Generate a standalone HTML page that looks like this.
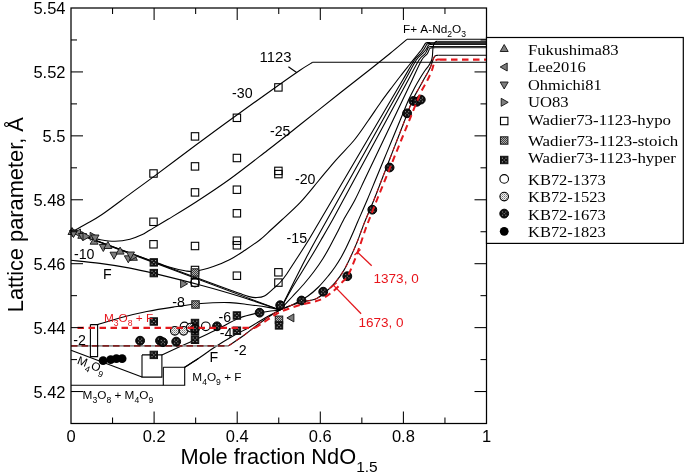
<!DOCTYPE html>
<html><head><meta charset="utf-8"><style>
html,body{margin:0;padding:0;background:#fff;}
svg{display:block;will-change:transform;}
text{font-family:"Liberation Sans",sans-serif;fill:#000;}
.tk{font-size:16.5px;}
.tt{font-size:21.8px;}
.nl{font-size:14.2px;}
.pl{font-size:11.8px;}
.red{fill:#e8141b;}
.rl{font-size:13.5px;fill:#e8141b;}
.lg{font-family:"Liberation Serif",serif;font-size:15px;}
</style></head><body>
<svg width="685" height="474" viewBox="0 0 685 474">
<defs>
<pattern id="pstoich" width="2" height="2" patternUnits="userSpaceOnUse"><rect width="2" height="2" fill="#b0b0b0"/><rect width="1" height="1" fill="#404040"/><rect x="1" y="1" width="1" height="1" fill="#404040"/></pattern>
<pattern id="p1523" width="2" height="2" patternUnits="userSpaceOnUse"><rect width="2" height="2" fill="#f2f2f2"/><rect width="1" height="1" fill="#777"/><rect x="1" y="1" width="1" height="1" fill="#aaa"/></pattern>
</defs>
<rect width="685" height="474" fill="#fff"/>
<path d="M71 231.5 L280 310" fill="none" stroke="#000" stroke-width="1.1"/>
<path d="M71 232.4 C73.5 231 80.83 226.98 86 224 C91.17 221.02 94.58 219.57 102 214.5 C109.42 209.43 122.05 199.78 130.5 193.6 C138.95 187.42 141.85 185.45 152.7 177.4 C163.55 169.35 182.72 154.87 195.6 145.3 C208.48 135.73 216.18 130.02 230 120 C243.82 109.98 266.83 93.5 278.5 85.2 C290.17 76.9 294.3 74.02 300 70.2 C305.7 66.38 310.58 63.62 312.7 62.3" fill="none" stroke="#000" stroke-width="1.1"/>
<path d="M312.7 62.3 L486.5 62.3" fill="none" stroke="#000" stroke-width="1.1"/>
<path d="M71 232 C73.33 232.72 80.17 235.03 85 236.3 C89.83 237.57 95 238.78 100 239.6 C105 240.42 110 241.27 115 241.2 C120 241.13 125.53 240.27 130 239.2 C134.47 238.13 138.47 236.33 141.8 234.8 C145.13 233.27 145.63 232.58 150 230 C154.37 227.42 160.33 223.97 168 219.3 C175.67 214.63 185.67 208.72 196 202 C206.33 195.28 218.12 187.58 230 179 C241.88 170.42 255.63 159.53 267.3 150.5 C278.97 141.47 287.88 134.38 300 124.8 C312.12 115.22 328.33 102.22 340 93 C351.67 83.78 361.67 76.08 370 69.5 C378.33 62.92 383.83 58.53 390 53.5 C396.17 48.47 404.17 41.67 407 39.3" fill="none" stroke="#000" stroke-width="1.1"/>
<path d="M407 39.3 L486.5 39.3" fill="none" stroke="#000" stroke-width="1.1"/>
<path d="M71 231.2 C79.17 234.23 106.83 244.55 120 249.4 C133.17 254.25 141.67 257.32 150 260.3 C158.33 263.28 164.17 265.55 170 267.3 C175.83 269.05 180.83 270.13 185 270.8 C189.17 271.47 190.28 272.02 195 271.3 C199.72 270.58 207.47 268.47 213.3 266.5 C219.13 264.53 224.72 262.22 230 259.5 C235.28 256.78 240 253.5 245 250.2 C250 246.9 255.7 243.07 260 239.7 C264.3 236.33 267.18 233.28 270.8 230 C274.42 226.72 276.78 224.6 281.7 220 C286.62 215.4 294.12 208.98 300.3 202.4 C306.48 195.82 312.9 187.52 318.8 180.5 C324.7 173.48 329.78 167.05 335.7 160.3 C341.62 153.55 348.87 146.63 354.3 140 C359.73 133.37 363.85 126.83 368.3 120.5 C372.75 114.17 376.97 107.67 381 102 C385.03 96.33 389.25 90.83 392.5 86.5 C395.75 82.17 397.78 79.5 400.5 76 C403.22 72.5 405.88 69.17 408.8 65.5 C411.72 61.83 415.87 56.67 418 54 C420.13 51.33 420.57 50.95 421.6 49.5 C422.63 48.05 423.53 46.35 424.2 45.3 C424.87 44.25 425.05 43.65 425.6 43.2 C426.15 42.75 426.77 42.7 427.5 42.6 C428.23 42.5 429.58 42.6 430 42.6" fill="none" stroke="#000" stroke-width="1.1"/>
<path d="M430 42.6 L486.5 42.6" fill="none" stroke="#000" stroke-width="0.9"/>
<path d="M71 231.2 C84.17 236.07 128.5 252.43 150 260.4 C171.5 268.37 186.67 274.07 200 279 C213.33 283.93 223.33 287.57 230 290 C236.67 292.43 236.83 292.5 240 293.6 C243.17 294.7 246.33 295.93 249 296.6 C251.67 297.27 253.43 297.7 256 297.6 C258.57 297.5 261.4 297.58 264.4 296 C267.4 294.42 271.32 290.43 274 288.1 C276.68 285.77 278.35 284.4 280.5 282 C282.65 279.6 284.35 277.37 286.9 273.7 C289.45 270.03 292.18 265.62 295.8 260 C299.42 254.38 304.54 246.67 308.64 240 C312.74 233.33 316.48 226.67 320.4 220 C324.32 213.33 328.24 206.67 332.16 200 C336.08 193.33 340 186.67 343.92 180 C347.84 173.33 351.75 166.67 355.67 160 C359.59 153.33 363.51 146.67 367.43 140 C371.35 133.33 375.27 126.67 379.19 120 C383.11 113.33 387.03 106.67 390.95 100 C394.87 93.33 398.79 86.67 402.71 80 C406.63 73.33 411.55 64.33 414.47 60 C417.38 55.67 418.64 55.75 420.2 54 C421.76 52.25 422.87 50.83 423.8 49.5 C424.73 48.17 425.27 46.9 425.8 46 C426.33 45.1 426.55 44.5 427 44.1 C427.45 43.7 427.83 43.68 428.5 43.6 C429.17 43.52 430.58 43.6 431 43.6" fill="none" stroke="#000" stroke-width="1.1"/>
<path d="M431 43.6 L486.5 43.6" fill="none" stroke="#000" stroke-width="0.9"/>
<path d="M71 260.3 C75.83 260.82 90.17 262.1 100 263.4 C109.83 264.7 121 266.43 130 268.1 C139 269.77 142.33 270.58 154 273.4 C165.67 276.22 185.67 281.15 200 285 C214.33 288.85 226.67 292.33 240 296.5 C253.33 300.67 273.33 307.75 280 310" fill="none" stroke="#000" stroke-width="1.1"/>
<path d="M280 310 C280.73 308.54 282.91 304.17 284.35 301.25 C285.8 298.33 287.24 295.42 288.68 292.5 C290.12 289.58 291.56 286.67 293.01 283.75 C294.46 280.83 295.91 277.92 297.38 275 C298.84 272.08 300.32 269.17 301.81 266.25 C303.3 263.33 304.8 260.42 306.33 257.5 C307.86 254.58 309.4 251.67 310.98 248.75 C312.55 245.83 313.12 244.79 315.78 240 C318.44 235.21 323.22 226.67 326.95 220 C330.67 213.33 334.39 206.67 338.11 200 C341.84 193.33 345.56 186.67 349.28 180 C353 173.33 356.73 166.67 360.45 160 C364.17 153.33 367.89 146.67 371.62 140 C375.34 133.33 379.06 126.67 382.78 120 C386.51 113.33 390.23 106.67 393.95 100 C397.67 93.33 401.4 86.67 405.12 80 C408.84 73.33 413.47 64.33 416.29 60 C419.1 55.67 420.38 55.75 422 54 C423.62 52.25 425.03 50.8 426 49.5 C426.97 48.2 427.33 46.97 427.8 46.2 C428.27 45.43 428.43 45.18 428.8 44.9 C429.17 44.62 429.47 44.57 430 44.5 C430.53 44.43 431.67 44.5 432 44.5" fill="none" stroke="#000" stroke-width="1.1"/>
<path d="M432 44.5 L486.5 44.5" fill="none" stroke="#000" stroke-width="0.9"/>
<path d="M97.6 324.6 C101.42 323.45 112.3 319.88 120.5 317.7 C128.7 315.52 138.03 313.27 146.8 311.5 C155.57 309.73 164.07 308.43 173.1 307.1 C182.13 305.77 191.52 304.25 201 303.5 C210.48 302.75 221.97 302.4 230 302.6 C238.03 302.8 242.83 303.9 249.2 304.7 C255.57 305.5 263.07 306.52 268.2 307.4 C273.33 308.28 278.03 309.57 280 310" fill="none" stroke="#000" stroke-width="1.1"/>
<path d="M280 310 C281.83 306.67 287.25 296.5 291 290 C294.75 283.5 298.92 276.92 302.5 271 C306.08 265.08 309.42 259.67 312.5 254.5 C315.58 249.33 317.67 245.75 321 240 C324.33 234.25 328.76 226.67 332.48 220 C336.2 213.33 339.69 206.67 343.3 200 C346.9 193.33 350.51 186.67 354.11 180 C357.72 173.33 361.32 166.67 364.93 160 C368.54 153.33 372.14 146.67 375.75 140 C379.35 133.33 382.96 126.67 386.56 120 C390.17 113.33 393.78 106.67 397.38 100 C400.99 93.33 404.59 86.67 408.2 80 C411.8 73.33 416.23 64.33 419.02 60 C421.8 55.67 423.54 55.67 424.9 54 C426.26 52.33 426.63 51.08 427.2 50 C427.77 48.92 427.95 48.05 428.3 47.5 C428.65 46.95 428.85 46.87 429.3 46.7 C429.75 46.53 430.38 46.53 431 46.5 C431.62 46.47 432.67 46.5 433 46.5" fill="none" stroke="#000" stroke-width="1.1"/>
<path d="M433 46.5 L486.5 46.5" fill="none" stroke="#000" stroke-width="0.9"/>
<path d="M161.9 354.9 C167.12 352.53 184.18 344.85 193.2 340.7 C202.22 336.55 208.37 333.75 216 330 C223.63 326.25 231.77 321.08 239 318.2 C246.23 315.32 252.57 314.07 259.4 312.7 C266.23 311.33 276.57 310.45 280 310" fill="none" stroke="#000" stroke-width="1.1"/>
<path d="M280 310 C282 307.83 288.08 301.25 292 297 C295.92 292.75 299.83 288.75 303.5 284.5 C307.17 280.25 310.75 275.83 314 271.5 C317.25 267.17 320.13 263.08 323 258.5 C325.87 253.92 328.78 248.42 331.2 244 C333.62 239.58 335.45 236 337.5 232 C339.55 228 340.6 225.33 343.5 220 C346.4 214.67 351.42 206.67 354.91 200 C358.4 193.33 361.27 186.67 364.45 180 C367.63 173.33 370.81 166.67 373.99 160 C377.17 153.33 380.35 146.67 383.53 140 C386.71 133.33 389.89 126.67 393.07 120 C396.25 113.33 399.43 106.67 402.61 100 C405.79 93.33 408.97 86.67 412.15 80 C415.33 73.33 419.2 64.33 421.69 60 C424.18 55.67 425.91 55.58 427.1 54 C428.29 52.42 428.35 51.42 428.8 50.5 C429.25 49.58 429.43 48.93 429.8 48.5 C430.17 48.07 430.47 48.03 431 47.9 C431.53 47.77 432.33 47.73 433 47.7 C433.67 47.67 434.67 47.7 435 47.7" fill="none" stroke="#000" stroke-width="1.1"/>
<path d="M435 47.7 L486.5 47.7" fill="none" stroke="#000" stroke-width="0.9"/>
<path d="M184.7 367.3 C186.92 365.87 192.95 362.08 198 358.7 C203.05 355.32 209.17 350.78 215 347 C220.83 343.22 227.17 339.33 233 336 C238.83 332.67 244.67 330 250 327 C255.33 324 260 320.83 265 318 C270 315.17 277.5 311.33 280 310" fill="none" stroke="#000" stroke-width="1.1"/>
<path d="M280 310 C282.5 308.92 290.33 305.83 295 303.5 C299.67 301.17 304.08 298.75 308 296 C311.92 293.25 315.08 290.4 318.5 287 C321.92 283.6 325.75 278.93 328.5 275.6 C331.25 272.27 332.92 270.02 335 267 C337.08 263.98 339.17 260.67 341 257.5 C342.83 254.33 344.5 251 346 248 C347.5 245 348.67 242.42 350 239.5 C351.33 236.58 352.7 233.5 354 230.5 C355.3 227.5 355.6 226.58 357.8 221.5 C360 216.42 364.23 206.92 367.17 200 C370.11 193.08 372.69 186.67 375.44 180 C378.2 173.33 380.96 166.67 383.72 160 C386.47 153.33 389.23 146.67 391.99 140 C394.75 133.33 397.5 126.67 400.26 120 C403.02 113.33 406.16 105.33 408.53 100 C410.91 94.67 412.76 91.33 414.5 88 C416.24 84.67 417.42 82.67 419 80 C420.58 77.33 422.42 74.33 424 72 C425.58 69.67 427.28 67.83 428.5 66 C429.72 64.17 430.65 62.67 431.3 61 C431.95 59.33 432.15 57.83 432.4 56 C432.65 54.17 432.65 51.67 432.8 50 C432.95 48.33 433.02 47.17 433.3 46 C433.58 44.83 434.05 43.73 434.5 43 C434.95 42.27 435.5 41.87 436 41.6 C436.5 41.33 437.25 41.43 437.5 41.4" fill="none" stroke="#000" stroke-width="1.1"/>
<path d="M437.5 41.4 L486.5 41.4" fill="none" stroke="#000" stroke-width="0.9"/>
<path d="M71 345.8 L228.6 345.8" fill="none" stroke="#909090" stroke-width="1.7"/>
<path d="M71 345.8 L228.6 345.8" fill="none" stroke="#7d2020" stroke-width="1.7" stroke-dasharray="6.5 4"/>
<path d="M228.6 345.8 C231.33 343.92 239.43 338.55 245 334.5 C250.57 330.45 256.17 325.58 262 321.5 C267.83 317.42 273.67 313.17 280 310 C286.33 306.83 294.17 304.3 300 302.5 C305.83 300.7 310.82 300.87 315 299.2 C319.18 297.53 321.72 295.3 325.1 292.5 C328.48 289.7 332.2 286.05 335.3 282.4 C338.4 278.75 341.03 275.1 343.7 270.6 C346.37 266.1 349.05 260.18 351.3 255.4 C353.55 250.62 355.42 246.3 357.2 241.9 C358.98 237.5 360.62 232.65 362 229 C363.38 225.35 363.52 224.83 365.5 220 C367.48 215.17 371.19 206.67 373.88 200 C376.57 193.33 379.04 186.67 381.63 180 C384.21 173.33 386.79 166.67 389.37 160 C391.95 153.33 394.53 146.67 397.12 140 C399.7 133.33 402.28 126.67 404.86 120 C407.44 113.33 410.33 105.17 412.61 100 C414.88 94.83 416.68 92.33 418.5 89 C420.32 85.67 422 82.67 423.5 80 C425 77.33 426.33 75.17 427.5 73 C428.67 70.83 429.72 68.83 430.5 67 C431.28 65.17 431.7 63.42 432.2 62 C432.7 60.58 433.03 59.5 433.5 58.5 C433.97 57.5 434.45 56.52 435 56 C435.55 55.48 436.22 55.52 436.8 55.4 C437.38 55.28 438.22 55.32 438.5 55.3" fill="none" stroke="#000" stroke-width="1.1"/>
<path d="M228.6 345.8 C231.33 343.92 239.43 338.55 245 334.5 C250.57 330.45 256.17 325.58 262 321.5 C267.83 317.42 273.67 313.17 280 310 C286.33 306.83 294.17 304.3 300 302.5 C305.83 300.7 310.82 300.87 315 299.2 C319.18 297.53 321.72 295.3 325.1 292.5 C328.48 289.7 332.2 286.05 335.3 282.4 C338.4 278.75 341.03 275.1 343.7 270.6 C346.37 266.1 349.05 260.18 351.3 255.4 C353.55 250.62 355.42 246.3 357.2 241.9 C358.98 237.5 360.62 232.65 362 229 C363.38 225.35 363.52 224.83 365.5 220 C367.48 215.17 371.19 206.67 373.88 200 C376.57 193.33 379.04 186.67 381.63 180 C384.21 173.33 386.79 166.67 389.37 160 C391.95 153.33 394.53 146.67 397.12 140 C399.7 133.33 402.28 126.67 404.86 120 C407.44 113.33 410.33 105.17 412.61 100 C414.88 94.83 416.68 92.33 418.5 89 C420.32 85.67 422 82.67 423.5 80 C425 77.33 426.33 75.17 427.5 73 C428.67 70.83 429.72 68.83 430.5 67 C431.28 65.17 431.7 63.42 432.2 62 C432.7 60.58 433.03 59.5 433.5 58.5 C433.97 57.5 434.45 56.52 435 56 C435.55 55.48 436.22 55.52 436.8 55.4 C437.38 55.28 438.22 55.32 438.5 55.3" fill="none" stroke="#b3161b" stroke-width="1.05" stroke-dasharray="5 4"/>
<path d="M438.5 55.3 L486.5 55.3" fill="none" stroke="#000" stroke-width="1.1"/>
<path d="M71 350.2 L142 377.1" fill="none" stroke="#000" stroke-width="1.1"/>
<path d="M90.4 324.6 L97.6 324.6 L97.6 356.6 L90.4 356.6 L90.4 324.6" fill="none" stroke="#000" stroke-width="1.1"/>
<path d="M142 354.9 L161.9 354.9 L161.9 377.1 L142 377.1 L142 354.9" fill="none" stroke="#000" stroke-width="1.1"/>
<path d="M163.3 367.3 L184.7 367.3 L184.7 385.3 L163.3 385.3 L163.3 367.3" fill="none" stroke="#000" stroke-width="1.1"/>
<path d="M71 385.3 L163.3 385.3" fill="none" stroke="#000" stroke-width="1.1"/>
<path d="M184.7 367.3 C186.92 365.87 195.78 360.13 198 358.7" fill="none" stroke="#000" stroke-width="1.1"/>
<path d="M288.4 66.8 L297 72.7" fill="none" stroke="#000" stroke-width="1.1"/>
<rect x="149.8" y="169.8" width="7.4" height="7.4" fill="none" stroke="#000" stroke-width="1.1"/>
<rect x="149.8" y="218.1" width="7.4" height="7.4" fill="none" stroke="#000" stroke-width="1.1"/>
<rect x="149.8" y="240.6" width="7.4" height="7.4" fill="none" stroke="#000" stroke-width="1.1"/>
<rect x="191.3" y="132.7" width="7.4" height="7.4" fill="none" stroke="#000" stroke-width="1.1"/>
<rect x="191.3" y="162.7" width="7.4" height="7.4" fill="none" stroke="#000" stroke-width="1.1"/>
<rect x="191.3" y="188.7" width="7.4" height="7.4" fill="none" stroke="#000" stroke-width="1.1"/>
<rect x="191.3" y="242.3" width="7.4" height="7.4" fill="none" stroke="#000" stroke-width="1.1"/>
<rect x="233.2" y="114.1" width="7.4" height="7.4" fill="none" stroke="#000" stroke-width="1.1"/>
<rect x="233.2" y="154.3" width="7.4" height="7.4" fill="none" stroke="#000" stroke-width="1.1"/>
<rect x="233.2" y="186" width="7.4" height="7.4" fill="none" stroke="#000" stroke-width="1.1"/>
<rect x="233.2" y="209.6" width="7.4" height="7.4" fill="none" stroke="#000" stroke-width="1.1"/>
<rect x="233.2" y="237" width="7.4" height="7.4" fill="none" stroke="#000" stroke-width="1.1"/>
<rect x="233.2" y="241.6" width="7.4" height="7.4" fill="none" stroke="#000" stroke-width="1.1"/>
<rect x="233.2" y="272" width="7.4" height="7.4" fill="none" stroke="#000" stroke-width="1.1"/>
<rect x="274.7" y="83.7" width="7.4" height="7.4" fill="none" stroke="#000" stroke-width="1.1"/>
<rect x="274.7" y="167.2" width="7.4" height="7.4" fill="none" stroke="#000" stroke-width="1.1"/>
<rect x="274.7" y="170.4" width="7.4" height="7.4" fill="none" stroke="#000" stroke-width="1.1"/>
<rect x="274.7" y="268.6" width="7.4" height="7.4" fill="none" stroke="#000" stroke-width="1.1"/>
<rect x="274.7" y="278.9" width="7.4" height="7.4" fill="none" stroke="#000" stroke-width="1.1"/>
<rect x="191.3" y="266.3" width="7.4" height="7.4" fill="none" stroke="#000" stroke-width="1.1"/>
<rect x="191.3" y="271.3" width="7.4" height="7.4" fill="none" stroke="#000" stroke-width="1.1"/>
<rect x="191.3" y="278.9" width="7.4" height="7.4" fill="none" stroke="#000" stroke-width="1.1"/>
<polygon points="72,227.5 76,234.5 68,234.5" fill="#7d7d7d" stroke="#111" stroke-width="0.9"/>
<polygon points="79,232.5 72,228.5 72,236.5" fill="#7d7d7d" stroke="#111" stroke-width="0.9"/>
<polygon points="73.5,233 80.5,229 80.5,237" fill="#7d7d7d" stroke="#111" stroke-width="0.9"/>
<polygon points="73.5,237.5 77.5,230.5 69.5,230.5" fill="#7d7d7d" stroke="#111" stroke-width="0.9"/>
<polygon points="81.8,231.3 85.8,238.3 77.8,238.3" fill="#7d7d7d" stroke="#111" stroke-width="0.9"/>
<polygon points="82.5,240.5 86.5,233.5 78.5,233.5" fill="#7d7d7d" stroke="#111" stroke-width="0.9"/>
<polygon points="90,236.5 83,232.5 83,240.5" fill="#7d7d7d" stroke="#111" stroke-width="0.9"/>
<polygon points="97.1,236.3 90.1,232.3 90.1,240.3" fill="#7d7d7d" stroke="#111" stroke-width="0.9"/>
<polygon points="94.1,237.2 98.1,244.2 90.1,244.2" fill="#7d7d7d" stroke="#111" stroke-width="0.9"/>
<polygon points="95,242 99,235 91,235" fill="#7d7d7d" stroke="#111" stroke-width="0.9"/>
<polygon points="103.3,251.5 107.3,244.5 99.3,244.5" fill="#7d7d7d" stroke="#111" stroke-width="0.9"/>
<polygon points="107.9,241.5 111.9,248.5 103.9,248.5" fill="#7d7d7d" stroke="#111" stroke-width="0.9"/>
<polygon points="114,259.2 118,252.2 110,252.2" fill="#7d7d7d" stroke="#111" stroke-width="0.9"/>
<polygon points="120.1,247.1 124.1,254.1 116.1,254.1" fill="#7d7d7d" stroke="#111" stroke-width="0.9"/>
<polygon points="128.3,262.8 132.3,255.8 124.3,255.8" fill="#7d7d7d" stroke="#111" stroke-width="0.9"/>
<polygon points="133.4,253.3 137.4,260.3 129.4,260.3" fill="#7d7d7d" stroke="#111" stroke-width="0.9"/>
<polygon points="137.4,256.5 130.4,252.5 130.4,260.5" fill="#7d7d7d" stroke="#111" stroke-width="0.9"/>
<polygon points="130.5,259 134.5,252 126.5,252" fill="#7d7d7d" stroke="#111" stroke-width="0.9"/>
<polygon points="187.6,283.8 180.6,279.8 180.6,287.8" fill="#7d7d7d" stroke="#111" stroke-width="0.9"/>
<polygon points="286.9,317.9 293.9,313.9 293.9,321.9" fill="#7d7d7d" stroke="#111" stroke-width="0.9"/>
<rect x="191.3" y="268.8" width="7.4" height="7.4" fill="url(#pstoich)" stroke="#222" stroke-width="1.1"/>
<rect x="191.8" y="300.8" width="7.4" height="7.4" fill="url(#pstoich)" stroke="#222" stroke-width="1.1"/>
<rect x="275.3" y="316.1" width="7.4" height="7.4" fill="url(#pstoich)" stroke="#222" stroke-width="1.1"/>
<rect x="150.1" y="258.7" width="7.4" height="7.4" fill="#111" stroke="#111" stroke-width="1"/>
<rect x="151.5" y="260.1" width="1" height="1" fill="#bbb"/>
<rect x="155.1" y="260.1" width="1" height="1" fill="#bbb"/>
<rect x="153.3" y="261.9" width="1" height="1" fill="#bbb"/>
<rect x="151.5" y="263.7" width="1" height="1" fill="#bbb"/>
<rect x="155.1" y="263.7" width="1" height="1" fill="#bbb"/>
<rect x="150.1" y="269.4" width="7.4" height="7.4" fill="#111" stroke="#111" stroke-width="1"/>
<rect x="151.5" y="270.8" width="1" height="1" fill="#bbb"/>
<rect x="155.1" y="270.8" width="1" height="1" fill="#bbb"/>
<rect x="153.3" y="272.6" width="1" height="1" fill="#bbb"/>
<rect x="151.5" y="274.4" width="1" height="1" fill="#bbb"/>
<rect x="155.1" y="274.4" width="1" height="1" fill="#bbb"/>
<rect x="150.1" y="317.8" width="7.4" height="7.4" fill="#111" stroke="#111" stroke-width="1"/>
<rect x="151.5" y="319.2" width="1" height="1" fill="#bbb"/>
<rect x="155.1" y="319.2" width="1" height="1" fill="#bbb"/>
<rect x="153.3" y="321" width="1" height="1" fill="#bbb"/>
<rect x="151.5" y="322.8" width="1" height="1" fill="#bbb"/>
<rect x="155.1" y="322.8" width="1" height="1" fill="#bbb"/>
<rect x="150.1" y="351.2" width="7.4" height="7.4" fill="#111" stroke="#111" stroke-width="1"/>
<rect x="151.5" y="352.6" width="1" height="1" fill="#bbb"/>
<rect x="155.1" y="352.6" width="1" height="1" fill="#bbb"/>
<rect x="153.3" y="354.4" width="1" height="1" fill="#bbb"/>
<rect x="151.5" y="356.2" width="1" height="1" fill="#bbb"/>
<rect x="155.1" y="356.2" width="1" height="1" fill="#bbb"/>
<rect x="191.3" y="319.3" width="7.4" height="7.4" fill="#111" stroke="#111" stroke-width="1"/>
<rect x="192.7" y="320.7" width="1" height="1" fill="#bbb"/>
<rect x="196.3" y="320.7" width="1" height="1" fill="#bbb"/>
<rect x="194.5" y="322.5" width="1" height="1" fill="#bbb"/>
<rect x="192.7" y="324.3" width="1" height="1" fill="#bbb"/>
<rect x="196.3" y="324.3" width="1" height="1" fill="#bbb"/>
<rect x="191.3" y="327.7" width="7.4" height="7.4" fill="#111" stroke="#111" stroke-width="1"/>
<rect x="192.7" y="329.1" width="1" height="1" fill="#bbb"/>
<rect x="196.3" y="329.1" width="1" height="1" fill="#bbb"/>
<rect x="194.5" y="330.9" width="1" height="1" fill="#bbb"/>
<rect x="192.7" y="332.7" width="1" height="1" fill="#bbb"/>
<rect x="196.3" y="332.7" width="1" height="1" fill="#bbb"/>
<rect x="191.3" y="336.1" width="7.4" height="7.4" fill="#111" stroke="#111" stroke-width="1"/>
<rect x="192.7" y="337.5" width="1" height="1" fill="#bbb"/>
<rect x="196.3" y="337.5" width="1" height="1" fill="#bbb"/>
<rect x="194.5" y="339.3" width="1" height="1" fill="#bbb"/>
<rect x="192.7" y="341.1" width="1" height="1" fill="#bbb"/>
<rect x="196.3" y="341.1" width="1" height="1" fill="#bbb"/>
<rect x="233.2" y="311.8" width="7.4" height="7.4" fill="#111" stroke="#111" stroke-width="1"/>
<rect x="234.6" y="313.2" width="1" height="1" fill="#bbb"/>
<rect x="238.2" y="313.2" width="1" height="1" fill="#bbb"/>
<rect x="236.4" y="315" width="1" height="1" fill="#bbb"/>
<rect x="234.6" y="316.8" width="1" height="1" fill="#bbb"/>
<rect x="238.2" y="316.8" width="1" height="1" fill="#bbb"/>
<rect x="233.2" y="327" width="7.4" height="7.4" fill="#111" stroke="#111" stroke-width="1"/>
<rect x="234.6" y="328.4" width="1" height="1" fill="#bbb"/>
<rect x="238.2" y="328.4" width="1" height="1" fill="#bbb"/>
<rect x="236.4" y="330.2" width="1" height="1" fill="#bbb"/>
<rect x="234.6" y="332" width="1" height="1" fill="#bbb"/>
<rect x="238.2" y="332" width="1" height="1" fill="#bbb"/>
<rect x="275.3" y="321.7" width="7.4" height="7.4" fill="#111" stroke="#111" stroke-width="1"/>
<rect x="276.7" y="323.1" width="1" height="1" fill="#bbb"/>
<rect x="280.3" y="323.1" width="1" height="1" fill="#bbb"/>
<rect x="278.5" y="324.9" width="1" height="1" fill="#bbb"/>
<rect x="276.7" y="326.7" width="1" height="1" fill="#bbb"/>
<rect x="280.3" y="326.7" width="1" height="1" fill="#bbb"/>
<circle cx="195" cy="282.6" r="4.3" fill="none" stroke="#000" stroke-width="1.1"/>
<circle cx="184.5" cy="326.4" r="4.3" fill="none" stroke="#000" stroke-width="1.1"/>
<circle cx="205.8" cy="326.3" r="4.3" fill="none" stroke="#000" stroke-width="1.1"/>
<circle cx="174.8" cy="330.8" r="4.3" fill="url(#p1523)" stroke="#000" stroke-width="1.1"/>
<circle cx="183.6" cy="330.8" r="4.3" fill="url(#p1523)" stroke="#000" stroke-width="1.1"/>
<circle cx="190.6" cy="327.6" r="4.3" fill="url(#p1523)" stroke="#000" stroke-width="1.1"/>
<circle cx="140.1" cy="340.7" r="4.4" fill="#111" stroke="#000" stroke-width="1"/>
<rect x="138" y="338.6" width="1" height="1" fill="#999"/>
<rect x="141.2" y="338.6" width="1" height="1" fill="#999"/>
<rect x="139.6" y="340.2" width="1" height="1" fill="#999"/>
<rect x="138" y="341.8" width="1" height="1" fill="#999"/>
<rect x="141.2" y="341.8" width="1" height="1" fill="#999"/>
<circle cx="160" cy="340.7" r="4.4" fill="#111" stroke="#000" stroke-width="1"/>
<rect x="157.9" y="338.6" width="1" height="1" fill="#999"/>
<rect x="161.1" y="338.6" width="1" height="1" fill="#999"/>
<rect x="159.5" y="340.2" width="1" height="1" fill="#999"/>
<rect x="157.9" y="341.8" width="1" height="1" fill="#999"/>
<rect x="161.1" y="341.8" width="1" height="1" fill="#999"/>
<circle cx="162.9" cy="342.2" r="4.4" fill="#111" stroke="#000" stroke-width="1"/>
<rect x="160.8" y="340.1" width="1" height="1" fill="#999"/>
<rect x="164" y="340.1" width="1" height="1" fill="#999"/>
<rect x="162.4" y="341.7" width="1" height="1" fill="#999"/>
<rect x="160.8" y="343.3" width="1" height="1" fill="#999"/>
<rect x="164" y="343.3" width="1" height="1" fill="#999"/>
<circle cx="176.2" cy="341.6" r="4.4" fill="#111" stroke="#000" stroke-width="1"/>
<rect x="174.1" y="339.5" width="1" height="1" fill="#999"/>
<rect x="177.3" y="339.5" width="1" height="1" fill="#999"/>
<rect x="175.7" y="341.1" width="1" height="1" fill="#999"/>
<rect x="174.1" y="342.7" width="1" height="1" fill="#999"/>
<rect x="177.3" y="342.7" width="1" height="1" fill="#999"/>
<circle cx="195" cy="328.5" r="4.4" fill="#111" stroke="#000" stroke-width="1"/>
<rect x="192.9" y="326.4" width="1" height="1" fill="#999"/>
<rect x="196.1" y="326.4" width="1" height="1" fill="#999"/>
<rect x="194.5" y="328" width="1" height="1" fill="#999"/>
<rect x="192.9" y="329.6" width="1" height="1" fill="#999"/>
<rect x="196.1" y="329.6" width="1" height="1" fill="#999"/>
<circle cx="217" cy="326.3" r="4.4" fill="#111" stroke="#000" stroke-width="1"/>
<rect x="214.9" y="324.2" width="1" height="1" fill="#999"/>
<rect x="218.1" y="324.2" width="1" height="1" fill="#999"/>
<rect x="216.5" y="325.8" width="1" height="1" fill="#999"/>
<rect x="214.9" y="327.4" width="1" height="1" fill="#999"/>
<rect x="218.1" y="327.4" width="1" height="1" fill="#999"/>
<circle cx="259.6" cy="312.7" r="4.4" fill="#111" stroke="#000" stroke-width="1"/>
<rect x="257.5" y="310.6" width="1" height="1" fill="#999"/>
<rect x="260.7" y="310.6" width="1" height="1" fill="#999"/>
<rect x="259.1" y="312.2" width="1" height="1" fill="#999"/>
<rect x="257.5" y="313.8" width="1" height="1" fill="#999"/>
<rect x="260.7" y="313.8" width="1" height="1" fill="#999"/>
<circle cx="280.2" cy="305.2" r="4.4" fill="#111" stroke="#000" stroke-width="1"/>
<rect x="278.1" y="303.1" width="1" height="1" fill="#999"/>
<rect x="281.3" y="303.1" width="1" height="1" fill="#999"/>
<rect x="279.7" y="304.7" width="1" height="1" fill="#999"/>
<rect x="278.1" y="306.3" width="1" height="1" fill="#999"/>
<rect x="281.3" y="306.3" width="1" height="1" fill="#999"/>
<circle cx="301.5" cy="300.5" r="4.4" fill="#111" stroke="#000" stroke-width="1"/>
<rect x="299.4" y="298.4" width="1" height="1" fill="#999"/>
<rect x="302.6" y="298.4" width="1" height="1" fill="#999"/>
<rect x="301" y="300" width="1" height="1" fill="#999"/>
<rect x="299.4" y="301.6" width="1" height="1" fill="#999"/>
<rect x="302.6" y="301.6" width="1" height="1" fill="#999"/>
<circle cx="323.2" cy="291.7" r="4.4" fill="#111" stroke="#000" stroke-width="1"/>
<rect x="321.1" y="289.6" width="1" height="1" fill="#999"/>
<rect x="324.3" y="289.6" width="1" height="1" fill="#999"/>
<rect x="322.7" y="291.2" width="1" height="1" fill="#999"/>
<rect x="321.1" y="292.8" width="1" height="1" fill="#999"/>
<rect x="324.3" y="292.8" width="1" height="1" fill="#999"/>
<circle cx="347.3" cy="276.2" r="4.4" fill="#111" stroke="#000" stroke-width="1"/>
<rect x="345.2" y="274.1" width="1" height="1" fill="#999"/>
<rect x="348.4" y="274.1" width="1" height="1" fill="#999"/>
<rect x="346.8" y="275.7" width="1" height="1" fill="#999"/>
<rect x="345.2" y="277.3" width="1" height="1" fill="#999"/>
<rect x="348.4" y="277.3" width="1" height="1" fill="#999"/>
<circle cx="372.3" cy="209.7" r="4.4" fill="#111" stroke="#000" stroke-width="1"/>
<rect x="370.2" y="207.6" width="1" height="1" fill="#999"/>
<rect x="373.4" y="207.6" width="1" height="1" fill="#999"/>
<rect x="371.8" y="209.2" width="1" height="1" fill="#999"/>
<rect x="370.2" y="210.8" width="1" height="1" fill="#999"/>
<rect x="373.4" y="210.8" width="1" height="1" fill="#999"/>
<circle cx="389.6" cy="167.5" r="4.4" fill="#111" stroke="#000" stroke-width="1"/>
<rect x="387.5" y="165.4" width="1" height="1" fill="#999"/>
<rect x="390.7" y="165.4" width="1" height="1" fill="#999"/>
<rect x="389.1" y="167" width="1" height="1" fill="#999"/>
<rect x="387.5" y="168.6" width="1" height="1" fill="#999"/>
<rect x="390.7" y="168.6" width="1" height="1" fill="#999"/>
<circle cx="407.1" cy="113.3" r="4.4" fill="#111" stroke="#000" stroke-width="1"/>
<rect x="405" y="111.2" width="1" height="1" fill="#999"/>
<rect x="408.2" y="111.2" width="1" height="1" fill="#999"/>
<rect x="406.6" y="112.8" width="1" height="1" fill="#999"/>
<rect x="405" y="114.4" width="1" height="1" fill="#999"/>
<rect x="408.2" y="114.4" width="1" height="1" fill="#999"/>
<circle cx="413.4" cy="101" r="4.4" fill="#111" stroke="#000" stroke-width="1"/>
<rect x="411.3" y="98.9" width="1" height="1" fill="#999"/>
<rect x="414.5" y="98.9" width="1" height="1" fill="#999"/>
<rect x="412.9" y="100.5" width="1" height="1" fill="#999"/>
<rect x="411.3" y="102.1" width="1" height="1" fill="#999"/>
<rect x="414.5" y="102.1" width="1" height="1" fill="#999"/>
<circle cx="416.8" cy="101.8" r="4.4" fill="#111" stroke="#000" stroke-width="1"/>
<rect x="414.7" y="99.7" width="1" height="1" fill="#999"/>
<rect x="417.9" y="99.7" width="1" height="1" fill="#999"/>
<rect x="416.3" y="101.3" width="1" height="1" fill="#999"/>
<rect x="414.7" y="102.9" width="1" height="1" fill="#999"/>
<rect x="417.9" y="102.9" width="1" height="1" fill="#999"/>
<circle cx="420.8" cy="99.6" r="4.4" fill="#111" stroke="#000" stroke-width="1"/>
<rect x="418.7" y="97.5" width="1" height="1" fill="#999"/>
<rect x="421.9" y="97.5" width="1" height="1" fill="#999"/>
<rect x="420.3" y="99.1" width="1" height="1" fill="#999"/>
<rect x="418.7" y="100.7" width="1" height="1" fill="#999"/>
<rect x="421.9" y="100.7" width="1" height="1" fill="#999"/>
<circle cx="103.1" cy="360.6" r="4.4" fill="#000"/>
<circle cx="110.7" cy="359.7" r="4.4" fill="#000"/>
<circle cx="116.4" cy="358.7" r="4.4" fill="#000"/>
<circle cx="122.1" cy="358.7" r="4.4" fill="#000"/>
<path d="M77.5 327.8 L255 327.8" fill="none" stroke="#e3191e" stroke-width="2.2" stroke-dasharray="6.5 4.5"/>
<path d="M255 327.8 C257.17 326.42 263.75 322.17 268 319.5 C272.25 316.83 275.17 314.22 280.5 311.8 C285.83 309.38 293.42 307 300 305 C306.58 303 314.4 302.17 320 299.8 C325.6 297.43 329.93 293.7 333.6 290.8 C337.27 287.9 339.62 284.93 342 282.4 C344.38 279.87 345.93 278.98 347.9 275.6 C349.87 272.22 351.97 266.6 353.8 262.1 C355.63 257.6 357 253.95 358.9 248.6 C360.8 243.25 363.52 234.77 365.2 230 C366.88 225.23 367.05 225 369 220 C370.95 215 374.22 206.67 376.89 200 C379.56 193.33 382.31 186.67 385.02 180 C387.73 173.33 390.44 166.67 393.15 160 C395.86 153.33 398.57 146.67 401.29 140 C404 133.33 406.71 126.67 409.42 120 C412.13 113.33 415.54 104.83 417.55 100 C419.56 95.17 420.09 93.83 421.5 91 C422.91 88.17 424.67 85.5 426 83 C427.33 80.5 428.5 78.17 429.5 76 C430.5 73.83 431.33 71.83 432 70 C432.67 68.17 433.03 66.42 433.5 65 C433.97 63.58 434.3 62.37 434.8 61.5 C435.3 60.63 435.88 60.12 436.5 59.8 C437.12 59.48 437.92 59.63 438.5 59.6 C439.08 59.57 439.75 59.6 440 59.6" fill="none" stroke="#e3191e" stroke-width="2.0" stroke-dasharray="6.5 4.5"/>
<path d="M440 59.6 L486.5 59.6" fill="none" stroke="#e3191e" stroke-width="2.2" stroke-dasharray="6.5 4.5"/>
<path d="M357.5 252.2 L371.7 265.7" fill="none" stroke="#e3191e" stroke-width="1.3"/>
<path d="M354.5 255 L360.5 249.5" fill="none" stroke="#e3191e" stroke-width="1.3"/>
<path d="M333.6 285.4 L361.1 313.8" fill="none" stroke="#e3191e" stroke-width="1.3"/>
<path d="M330.5 288 L336.7 282.8" fill="none" stroke="#e3191e" stroke-width="1.3"/>
<rect x="71" y="8" width="415.5" height="415.5" fill="none" stroke="#000" stroke-width="1.25"/>
<line x1="112.55" y1="423.5" x2="112.55" y2="417.5" stroke="#000" stroke-width="1.05"/>
<line x1="112.55" y1="8" x2="112.55" y2="14" stroke="#000" stroke-width="1.05"/>
<line x1="154.1" y1="423.5" x2="154.1" y2="411.5" stroke="#000" stroke-width="1.05"/>
<line x1="154.1" y1="8" x2="154.1" y2="20" stroke="#000" stroke-width="1.05"/>
<line x1="195.65" y1="423.5" x2="195.65" y2="417.5" stroke="#000" stroke-width="1.05"/>
<line x1="195.65" y1="8" x2="195.65" y2="14" stroke="#000" stroke-width="1.05"/>
<line x1="237.2" y1="423.5" x2="237.2" y2="411.5" stroke="#000" stroke-width="1.05"/>
<line x1="237.2" y1="8" x2="237.2" y2="20" stroke="#000" stroke-width="1.05"/>
<line x1="278.75" y1="423.5" x2="278.75" y2="417.5" stroke="#000" stroke-width="1.05"/>
<line x1="278.75" y1="8" x2="278.75" y2="14" stroke="#000" stroke-width="1.05"/>
<line x1="320.3" y1="423.5" x2="320.3" y2="411.5" stroke="#000" stroke-width="1.05"/>
<line x1="320.3" y1="8" x2="320.3" y2="20" stroke="#000" stroke-width="1.05"/>
<line x1="361.85" y1="423.5" x2="361.85" y2="417.5" stroke="#000" stroke-width="1.05"/>
<line x1="361.85" y1="8" x2="361.85" y2="14" stroke="#000" stroke-width="1.05"/>
<line x1="403.4" y1="423.5" x2="403.4" y2="411.5" stroke="#000" stroke-width="1.05"/>
<line x1="403.4" y1="8" x2="403.4" y2="20" stroke="#000" stroke-width="1.05"/>
<line x1="444.95" y1="423.5" x2="444.95" y2="417.5" stroke="#000" stroke-width="1.05"/>
<line x1="444.95" y1="8" x2="444.95" y2="14" stroke="#000" stroke-width="1.05"/>
<line x1="71" y1="391.54" x2="83" y2="391.54" stroke="#000" stroke-width="1.05"/>
<line x1="486.5" y1="391.54" x2="474.5" y2="391.54" stroke="#000" stroke-width="1.05"/>
<line x1="71" y1="359.58" x2="77" y2="359.58" stroke="#000" stroke-width="1.05"/>
<line x1="486.5" y1="359.58" x2="480.5" y2="359.58" stroke="#000" stroke-width="1.05"/>
<line x1="71" y1="327.62" x2="83" y2="327.62" stroke="#000" stroke-width="1.05"/>
<line x1="486.5" y1="327.62" x2="474.5" y2="327.62" stroke="#000" stroke-width="1.05"/>
<line x1="71" y1="295.65" x2="77" y2="295.65" stroke="#000" stroke-width="1.05"/>
<line x1="486.5" y1="295.65" x2="480.5" y2="295.65" stroke="#000" stroke-width="1.05"/>
<line x1="71" y1="263.69" x2="83" y2="263.69" stroke="#000" stroke-width="1.05"/>
<line x1="486.5" y1="263.69" x2="474.5" y2="263.69" stroke="#000" stroke-width="1.05"/>
<line x1="71" y1="231.73" x2="77" y2="231.73" stroke="#000" stroke-width="1.05"/>
<line x1="486.5" y1="231.73" x2="480.5" y2="231.73" stroke="#000" stroke-width="1.05"/>
<line x1="71" y1="199.77" x2="83" y2="199.77" stroke="#000" stroke-width="1.05"/>
<line x1="486.5" y1="199.77" x2="474.5" y2="199.77" stroke="#000" stroke-width="1.05"/>
<line x1="71" y1="167.81" x2="77" y2="167.81" stroke="#000" stroke-width="1.05"/>
<line x1="486.5" y1="167.81" x2="480.5" y2="167.81" stroke="#000" stroke-width="1.05"/>
<line x1="71" y1="135.85" x2="83" y2="135.85" stroke="#000" stroke-width="1.05"/>
<line x1="486.5" y1="135.85" x2="474.5" y2="135.85" stroke="#000" stroke-width="1.05"/>
<line x1="71" y1="103.88" x2="77" y2="103.88" stroke="#000" stroke-width="1.05"/>
<line x1="486.5" y1="103.88" x2="480.5" y2="103.88" stroke="#000" stroke-width="1.05"/>
<line x1="71" y1="71.92" x2="83" y2="71.92" stroke="#000" stroke-width="1.05"/>
<line x1="486.5" y1="71.92" x2="474.5" y2="71.92" stroke="#000" stroke-width="1.05"/>
<line x1="71" y1="39.96" x2="77" y2="39.96" stroke="#000" stroke-width="1.05"/>
<line x1="486.5" y1="39.96" x2="480.5" y2="39.96" stroke="#000" stroke-width="1.05"/>
<text x="65.5" y="14" text-anchor="end" class="tk">5.54</text>
<text x="65.5" y="77.92" text-anchor="end" class="tk">5.52</text>
<text x="65.5" y="141.85" text-anchor="end" class="tk">5.5</text>
<text x="65.5" y="205.77" text-anchor="end" class="tk">5.48</text>
<text x="65.5" y="269.69" text-anchor="end" class="tk">5.46</text>
<text x="65.5" y="333.62" text-anchor="end" class="tk">5.44</text>
<text x="65.5" y="397.54" text-anchor="end" class="tk">5.42</text>
<text x="71" y="441.6" text-anchor="middle" class="tk">0</text>
<text x="154.1" y="441.6" text-anchor="middle" class="tk">0.2</text>
<text x="237.2" y="441.6" text-anchor="middle" class="tk">0.4</text>
<text x="320.3" y="441.6" text-anchor="middle" class="tk">0.6</text>
<text x="403.4" y="441.6" text-anchor="middle" class="tk">0.8</text>
<text x="486.5" y="441.6" text-anchor="middle" class="tk">1</text>
<text x="180.5" y="463.9" class="tt">Mole fraction NdO<tspan font-size="15.5" dy="7.9">1.5</tspan></text>
<text transform="translate(22.7,214.7) rotate(-90)" text-anchor="middle" class="tt">Lattice parameter, Å</text>
<text x="275.5" y="62.2" text-anchor="middle" class="nl" style="font-size:14.8px">1123</text>
<text x="242.3" y="98.1" text-anchor="middle" class="nl">-30</text>
<text x="280.2" y="136.1" text-anchor="middle" class="nl">-25</text>
<text x="305.2" y="184.3" text-anchor="middle" class="nl">-20</text>
<text x="296.8" y="242.6" text-anchor="middle" class="nl">-15</text>
<text x="84.2" y="259.3" text-anchor="middle" class="nl">-10</text>
<text x="178.5" y="306.8" text-anchor="middle" class="nl">-8</text>
<text x="224.8" y="321.8" text-anchor="middle" class="nl">-6</text>
<text x="226" y="338.1" text-anchor="middle" class="nl">-4</text>
<text x="79.5" y="345.2" text-anchor="middle" class="nl">-2</text>
<text x="240.3" y="354.6" text-anchor="middle" class="nl">-2</text>
<text x="107.3" y="278.5" text-anchor="middle" class="nl">F</text>
<text x="213.8" y="362" text-anchor="middle" class="nl">F</text>
<text x="373.6" y="283.2" class="rl">1373, 0</text>
<text x="358.4" y="327.3" class="rl">1673, 0</text>
<text x="403" y="33.2" class="pl">F+&#160;A-Nd<tspan font-size="8.6" dy="4.2">2</tspan><tspan dy="-4.2">O</tspan><tspan font-size="8.6" dy="4.2">3</tspan></text>
<text x="104" y="321.5" class="pl red">M<tspan font-size="8.6" dy="4.2">3</tspan><tspan dy="-4.2">O</tspan><tspan font-size="8.6" dy="4.2">8</tspan><tspan dy="-4.2">&#160;+&#160;F</tspan></text>
<text x="192.3" y="380.5" class="pl">M<tspan font-size="8.6" dy="4.2">4</tspan><tspan dy="-4.2">O</tspan><tspan font-size="8.6" dy="4.2">9</tspan><tspan dy="-4.2">&#160;+&#160;F</tspan></text>
<text x="82.6" y="398.6" class="pl">M<tspan font-size="8.6" dy="4.2">3</tspan><tspan dy="-4.2">O</tspan><tspan font-size="8.6" dy="4.2">8</tspan><tspan dy="-4.2">&#160;+&#160;M</tspan><tspan font-size="8.6" dy="4.2">4</tspan><tspan dy="-4.2">O</tspan><tspan font-size="8.6" dy="4.2">9</tspan></text>
<text x="0" y="0" class="pl" transform="translate(76.5,363.6) rotate(20.7)">M<tspan font-size="8.6" dy="4.2">4</tspan><tspan dy="-4.2">O</tspan><tspan font-size="8.6" dy="4.2">9</tspan></text>
<rect x="486.5" y="37.5" width="196.8" height="205.9" fill="#fff" stroke="#000" stroke-width="1.2"/>
<text x="528" y="54.8" class="lg" textLength="90.6" lengthAdjust="spacingAndGlyphs">Fukushima83</text>
<text x="528" y="72.2" class="lg" textLength="57.8" lengthAdjust="spacingAndGlyphs">Lee2016</text>
<text x="528" y="89.5" class="lg" textLength="73.6" lengthAdjust="spacingAndGlyphs">Ohmichi81</text>
<text x="528" y="106.5" class="lg" textLength="40.6" lengthAdjust="spacingAndGlyphs">UO83</text>
<text x="528" y="125" class="lg" textLength="143" lengthAdjust="spacingAndGlyphs">Wadier73-1123-hypo</text>
<text x="528" y="145.7" class="lg" textLength="150.2" lengthAdjust="spacingAndGlyphs">Wadier73-1123-stoich</text>
<text x="528" y="163.4" class="lg" textLength="147.8" lengthAdjust="spacingAndGlyphs">Wadier73-1123-hyper</text>
<text x="528" y="184.8" class="lg" textLength="77.8" lengthAdjust="spacingAndGlyphs">KB72-1373</text>
<text x="528" y="201.8" class="lg" textLength="77.8" lengthAdjust="spacingAndGlyphs">KB72-1523</text>
<text x="528" y="219.5" class="lg" textLength="77.8" lengthAdjust="spacingAndGlyphs">KB72-1673</text>
<text x="528" y="236.5" class="lg" textLength="77.8" lengthAdjust="spacingAndGlyphs">KB72-1823</text>
<polygon points="504.2,44.5 508.2,51.5 500.2,51.5" fill="#7d7d7d" stroke="#111" stroke-width="0.9"/>
<polygon points="500.2,67 507.2,63 507.2,71" fill="#7d7d7d" stroke="#111" stroke-width="0.9"/>
<polygon points="504.2,89 508.2,82 500.2,82" fill="#7d7d7d" stroke="#111" stroke-width="0.9"/>
<polygon points="508.2,102.3 501.2,98.3 501.2,106.3" fill="#7d7d7d" stroke="#111" stroke-width="0.9"/>
<rect x="500.5" y="117.3" width="7.4" height="7.4" fill="none" stroke="#000" stroke-width="1.1"/>
<rect x="500.5" y="136.8" width="7.4" height="7.4" fill="url(#pstoich)" stroke="#222" stroke-width="1.1"/>
<rect x="500.5" y="156.3" width="7.4" height="7.4" fill="#111" stroke="#111" stroke-width="1"/>
<rect x="501.9" y="157.7" width="1" height="1" fill="#bbb"/>
<rect x="505.5" y="157.7" width="1" height="1" fill="#bbb"/>
<rect x="503.7" y="159.5" width="1" height="1" fill="#bbb"/>
<rect x="501.9" y="161.3" width="1" height="1" fill="#bbb"/>
<rect x="505.5" y="161.3" width="1" height="1" fill="#bbb"/>
<circle cx="504.2" cy="178.9" r="4.3" fill="none" stroke="#000" stroke-width="1.1"/>
<circle cx="504.2" cy="196.6" r="4.3" fill="url(#p1523)" stroke="#000" stroke-width="1.1"/>
<circle cx="504.2" cy="213.6" r="4.4" fill="#111" stroke="#000" stroke-width="1"/>
<rect x="502.1" y="211.5" width="1" height="1" fill="#999"/>
<rect x="505.3" y="211.5" width="1" height="1" fill="#999"/>
<rect x="503.7" y="213.1" width="1" height="1" fill="#999"/>
<rect x="502.1" y="214.7" width="1" height="1" fill="#999"/>
<rect x="505.3" y="214.7" width="1" height="1" fill="#999"/>
<circle cx="504.2" cy="231.3" r="4.4" fill="#000"/>
</svg>
</body></html>
